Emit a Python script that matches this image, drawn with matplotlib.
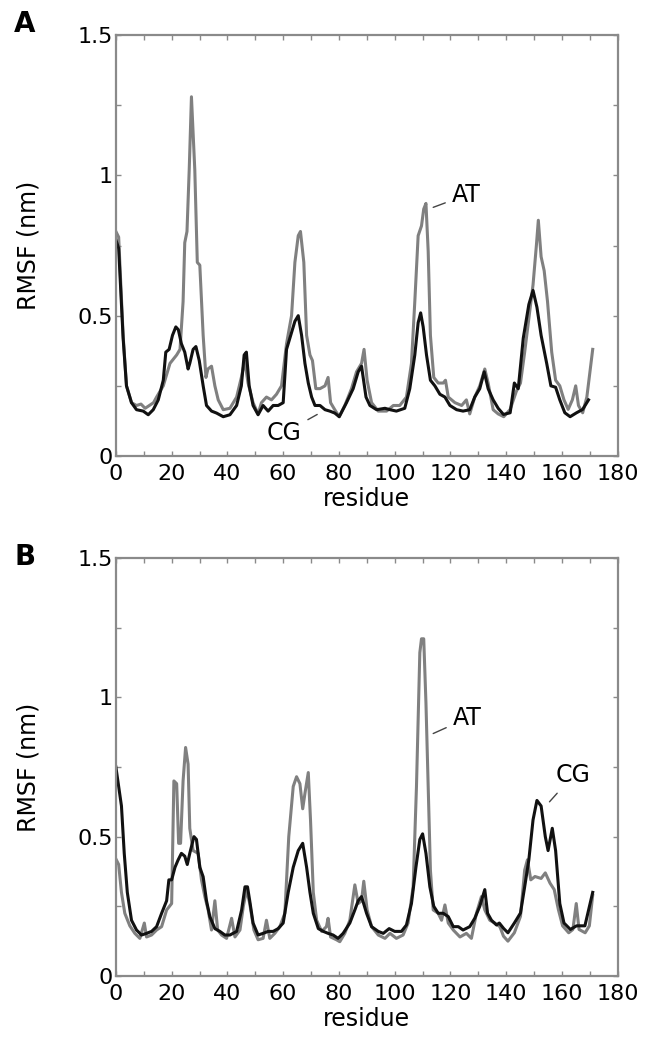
import matplotlib
matplotlib.use('Agg')
import matplotlib.pyplot as plt
from matplotlib.ticker import MultipleLocator

plt.rcParams['font.family'] = ['DejaVu Sans']

# panel A, AT (gray)
res_at_a = [0, 1, 2.6, 3.8, 5.6, 7.4, 9, 10.5, 12, 13.5, 14.6, 17, 19.4, 21.8, 23, 24.1, 24.7, 25.5, 26.3, 27.1,
            28.3, 29.2, 30.1, 31.3, 32.3, 33, 34.3, 35.5, 36.7, 38.5, 40.9, 43.3, 45, 46.2, 47.4, 49.2, 51, 52.2,
            54, 55.8, 57.6, 59.4, 61.2, 63, 64.2, 65.4, 66.2, 67.4, 68.4, 69.6, 70.5, 71.7, 73.2, 75, 76.1, 77,
            78.5, 80.1, 82.1, 84.5, 86.3, 88.1, 89, 90.1, 91.7, 94.1, 97.1, 99.5, 101.8, 104.2, 106, 107.2, 108.4,
            109.6, 110.4, 111.2, 112, 112.8, 114, 115.6, 117.4, 118.2, 119.2, 121.6, 124, 125.7, 126.9, 128.7,
            130.5, 132.3, 133.5, 135.3, 137.1, 139.1, 141.4, 143.6, 145.1, 146.6, 148.1, 149.6, 150.8, 151.5,
            152.5, 153.6, 154.8, 156.3, 157.7, 159.2, 160.7, 162.2, 163.7, 164.9, 165.9, 167.4, 168.9, 171]
rmsf_at_a = [0.80, 0.78, 0.43, 0.25, 0.19, 0.18, 0.185, 0.17, 0.18, 0.19, 0.21, 0.25, 0.33, 0.36, 0.38, 0.55, 0.76,
             0.80, 1.02, 1.28, 1.02, 0.69, 0.68, 0.43, 0.28, 0.31, 0.32, 0.25, 0.20, 0.165, 0.17, 0.21, 0.28, 0.34,
             0.26, 0.19, 0.15, 0.19, 0.21, 0.20, 0.22, 0.25, 0.40, 0.50, 0.69, 0.785, 0.80, 0.69, 0.43, 0.36, 0.34,
             0.24, 0.24, 0.25, 0.28, 0.19, 0.165, 0.14, 0.18, 0.24, 0.30, 0.33, 0.38, 0.27, 0.19, 0.16, 0.16, 0.18,
             0.18, 0.21, 0.33, 0.55, 0.785, 0.82, 0.88, 0.90, 0.73, 0.43, 0.28, 0.26, 0.26, 0.27, 0.21, 0.19, 0.18,
             0.20, 0.15, 0.21, 0.25, 0.31, 0.26, 0.165, 0.15, 0.14, 0.166, 0.23, 0.26, 0.37, 0.49, 0.61, 0.75, 0.84,
             0.71, 0.66, 0.55, 0.37, 0.27, 0.25, 0.20, 0.166, 0.20, 0.25, 0.18, 0.154, 0.21, 0.38]

# panel A, CG (black)
res_cg_a = [0, 1, 2.6, 3.8, 5.6, 7.4, 9.8, 11.6, 13.4, 15.2, 17, 17.9, 19.1, 20.3, 21.5, 22.4, 23.5, 24.7, 25.9,
            26.5, 27.7, 28.7, 29.9, 31.3, 32.5, 34.3, 36.1, 38.5, 40.9, 43.3, 45, 46, 46.8, 47.8, 49.2, 51, 52.8,
            54.6, 56.4, 58.2, 60, 61.2, 62.4, 64.2, 65.4, 66.6, 67.8, 69, 70.2, 71.4, 73.2, 75, 76.7, 78.5, 80.1,
            82.7, 85.1, 86.9, 88.1, 89.7, 91.1, 93.5, 96.5, 98.3, 100.6, 103.6, 105.4, 107.2, 108.4, 109.3, 110.2,
            111.4, 112.8, 114.4, 116.2, 118, 119.8, 122.2, 124.5, 126.9, 128.7, 130.5, 132.1, 133.5, 135.3, 137.1,
            139, 141.4, 142.9, 144.3, 146.1, 148.1, 149.6, 151, 152.5, 154.5, 156, 157.7, 159.2, 161, 162.9,
            165.2, 167.4, 169.5]
rmsf_cg_a = [0.77, 0.74, 0.42, 0.25, 0.19, 0.165, 0.16, 0.147, 0.165, 0.20, 0.27, 0.37, 0.38, 0.43, 0.46, 0.45,
             0.40, 0.37, 0.31, 0.33, 0.38, 0.39, 0.34, 0.25, 0.18, 0.16, 0.153, 0.14, 0.147, 0.18, 0.25, 0.36,
             0.37, 0.25, 0.18, 0.147, 0.18, 0.16, 0.18, 0.18, 0.19, 0.38, 0.42, 0.48, 0.50, 0.43, 0.33, 0.26, 0.21,
             0.18, 0.18, 0.165, 0.16, 0.153, 0.14, 0.19, 0.24, 0.30, 0.32, 0.21, 0.18, 0.165, 0.17, 0.165, 0.16,
             0.17, 0.24, 0.36, 0.475, 0.51, 0.46, 0.36, 0.27, 0.25, 0.22, 0.21, 0.18, 0.165, 0.16, 0.165, 0.21,
             0.24, 0.30, 0.24, 0.20, 0.17, 0.148, 0.154, 0.26, 0.24, 0.42, 0.54, 0.59, 0.53, 0.43, 0.33, 0.25,
             0.245, 0.20, 0.154, 0.14, 0.154, 0.166, 0.20]

# panel B, AT (gray)
res_at_b = [0, 1, 2, 3.2, 5, 6.8, 8.6, 10.2, 11, 12.8, 14.6, 16.4, 18.2, 20, 20.8, 21.8, 22.5, 23.2, 24.1, 25,
            25.9, 26.5, 27.7, 29.5, 30.7, 31.9, 33.1, 34.3, 35.5, 36.5, 37.9, 39.7, 41.5, 42.7, 44.5, 45.7, 46.9,
            48, 49.5, 51, 52.8, 54, 55.2, 57, 58.8, 60.6, 62, 63.6, 64.8, 66, 67, 67.8, 69, 69.8, 70.8, 72, 73.8,
            75.5, 76.1, 77, 79.1, 80.3, 82.1, 83.9, 85.7, 86.9, 88.1, 88.9, 90.1, 91.7, 94.1, 96.5, 98.3, 100.6,
            103, 104.8, 106.6, 107.8, 109, 109.6, 110.4, 111.2, 112, 112.8, 113.8, 115.6, 116.8, 118, 119.2, 121,
            123.4, 125.7, 127.5, 129.3, 131.1, 132.3, 134.1, 135.9, 137.7, 139, 140.6, 142.9, 145.1, 146.6, 147.6,
            148.8, 150.3, 152.5, 154, 155.7, 157.2, 158.7, 160.2, 162.4, 163.9, 165.1, 166.1, 168.3, 169.8, 171]
rmsf_at_b = [0.42, 0.40, 0.30, 0.225, 0.18, 0.153, 0.135, 0.19, 0.14, 0.147, 0.165, 0.177, 0.237, 0.26, 0.70,
             0.69, 0.476, 0.476, 0.70, 0.82, 0.76, 0.53, 0.45, 0.44, 0.345, 0.285, 0.237, 0.165, 0.27, 0.165,
             0.147, 0.135, 0.207, 0.14, 0.165, 0.25, 0.31, 0.26, 0.165, 0.13, 0.135, 0.20, 0.135, 0.153, 0.177,
             0.225, 0.50, 0.68, 0.715, 0.69, 0.60, 0.655, 0.73, 0.56, 0.30, 0.20, 0.16, 0.177, 0.207, 0.14, 0.13,
             0.123, 0.153, 0.20, 0.327, 0.26, 0.27, 0.34, 0.237, 0.177, 0.147, 0.135, 0.153, 0.135, 0.147, 0.19,
             0.32, 0.68, 1.16, 1.21, 1.21, 0.98, 0.68, 0.38, 0.237, 0.225, 0.20, 0.255, 0.19, 0.165, 0.14, 0.153,
             0.135, 0.225, 0.285, 0.237, 0.20, 0.19, 0.177, 0.143, 0.125, 0.155, 0.214, 0.38, 0.417, 0.345, 0.357,
             0.35, 0.37, 0.333, 0.31, 0.238, 0.18, 0.155, 0.167, 0.26, 0.167, 0.155, 0.18, 0.29]

# panel B, CG (black)
res_cg_b = [0, 2, 3, 4.1, 5.6, 7.4, 9.2, 11, 12.8, 14.6, 16.4, 18.2, 19, 20, 21.2, 22.3, 23.5, 24.7, 25.6, 26.5,
            28, 28.9, 30.1, 31.3, 32.5, 33.7, 35.5, 37.3, 39.1, 40.9, 43.3, 45.1, 46.3, 47.2, 48, 49.2, 51, 52.8,
            54.6, 56.4, 58.2, 60, 61.8, 63.6, 65.4, 67, 68.4, 69.6, 70.8, 72.6, 74.4, 76.1, 77.9, 79.7, 81.5,
            83.9, 85.7, 86.9, 88.1, 89.9, 91.7, 94.1, 95.9, 98, 100, 102.4, 104.2, 106, 107.6, 109, 110, 111.2,
            112.6, 114, 115.6, 117.4, 119.2, 121, 122.8, 124.5, 126.9, 128.7, 130.5, 132.3, 133.3, 134.7, 136.5,
            137.5, 139.1, 140.6, 142.9, 145.1, 146.6, 148.1, 149.6, 151, 152.5, 154, 155, 156.5, 157.7, 159.2,
            160.7, 163, 165.2, 168.2, 169.6, 171]
rmsf_cg_b = [0.75, 0.61, 0.44, 0.30, 0.20, 0.165, 0.147, 0.153, 0.16, 0.177, 0.225, 0.27, 0.345, 0.345, 0.39,
             0.416, 0.44, 0.43, 0.40, 0.44, 0.50, 0.49, 0.39, 0.356, 0.27, 0.213, 0.17, 0.16, 0.147, 0.147, 0.16,
             0.237, 0.32, 0.32, 0.27, 0.19, 0.147, 0.153, 0.16, 0.16, 0.17, 0.19, 0.30, 0.39, 0.45, 0.476, 0.39,
             0.30, 0.225, 0.17, 0.16, 0.153, 0.147, 0.135, 0.153, 0.19, 0.237, 0.27, 0.285, 0.225, 0.177, 0.16,
             0.153, 0.17, 0.16, 0.16, 0.183, 0.26, 0.39, 0.49, 0.51, 0.44, 0.32, 0.25, 0.225, 0.225, 0.213, 0.177,
             0.177, 0.165, 0.177, 0.207, 0.25, 0.31, 0.225, 0.20, 0.183, 0.19, 0.17, 0.155, 0.19, 0.226, 0.32,
             0.417, 0.56, 0.63, 0.61, 0.50, 0.45, 0.53, 0.45, 0.26, 0.19, 0.167, 0.18, 0.18, 0.24, 0.30]

gray = '#808080'
frame = '#8a8a8a'

fig = plt.figure(figsize=(6.51, 10.49), dpi=100)
axA = fig.add_axes([0.178, 0.5653, 0.771, 0.4013])
axB = fig.add_axes([0.178, 0.0696, 0.771, 0.3985])


def style_axes(ax):
    ax.set_xlim(0, 180)
    ax.set_ylim(0, 1.5)
    ax.xaxis.set_major_locator(MultipleLocator(20))
    ax.xaxis.set_minor_locator(MultipleLocator(10))
    ax.yaxis.set_major_locator(MultipleLocator(0.5))
    ax.yaxis.set_minor_locator(MultipleLocator(0.25))
    ax.set_yticks([0, 0.5, 1, 1.5])
    ax.set_yticklabels(['0', '0.5', '1', '1.5'])
    ax.tick_params(which='both', direction='in', top=True, right=True,
                   length=3.5, width=1, color=frame, labelsize=16)
    ax.tick_params(axis='x', pad=6)
    ax.tick_params(axis='y', pad=2)
    for s in ax.spines.values():
        s.set_color(frame)
        s.set_linewidth(1.6)
    ax.set_xlabel('residue', fontsize=17, labelpad=2)
    ax.set_ylabel('RMSF (nm)', fontsize=17)
    ax.yaxis.set_label_coords(-0.15, 0.5)


axA.plot(res_at_a, rmsf_at_a, color=gray, lw=2.2)
axA.plot(res_cg_a, rmsf_cg_a, color='#111111', lw=2.2)
style_axes(axA)
axA.annotate('AT', xy=(113.8, 0.886), xytext=(125.7, 0.93), fontsize=17, ha='center', va='center',
             arrowprops=dict(arrowstyle='-', color='#444444', lw=1, shrinkA=3, shrinkB=0))
axA.annotate('CG', xy=(72.2, 0.148), xytext=(60.3, 0.082), fontsize=17, ha='center', va='center',
             arrowprops=dict(arrowstyle='-', color='#444444', lw=1, shrinkA=3, shrinkB=0))

axB.plot(res_at_b, rmsf_at_b, color=gray, lw=2.2)
axB.plot(res_cg_b, rmsf_cg_b, color='#111111', lw=2.2)
style_axes(axB)
axB.annotate('AT', xy=(113.8, 0.87), xytext=(126, 0.925), fontsize=17, ha='center', va='center',
             arrowprops=dict(arrowstyle='-', color='#444444', lw=1, shrinkA=3, shrinkB=0))
axB.annotate('CG', xy=(155.5, 0.625), xytext=(164, 0.72), fontsize=17, ha='center', va='center',
             arrowprops=dict(arrowstyle='-', color='#444444', lw=1, shrinkA=3, shrinkB=0))

fig.text(0.022, 1 - 10 / 1049, 'A', fontsize=20, fontweight='bold', va='top', ha='left')
fig.text(0.022, 1 - 543 / 1049, 'B', fontsize=20, fontweight='bold', va='top', ha='left')

fig.savefig('out.png', dpi=100)
